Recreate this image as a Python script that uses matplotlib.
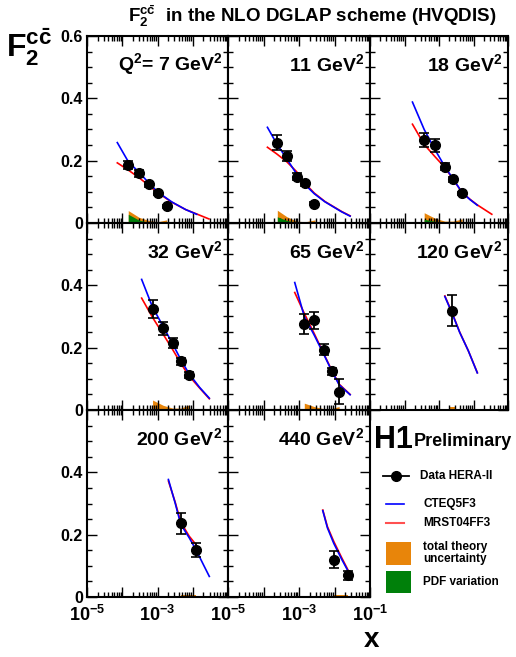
import numpy as np
import matplotlib
matplotlib.use("Agg")
import matplotlib.pyplot as plt
import matplotlib.ticker as mticker

plt.rcParams['font.family'] = ['Liberation Sans', 'DejaVu Sans']
plt.rcParams['font.weight'] = 'bold'
plt.rcParams['mathtext.fontset'] = 'custom'
plt.rcParams['mathtext.rm'] = 'Liberation Sans:bold'
plt.rcParams['mathtext.it'] = 'Liberation Sans:bold'
plt.rcParams['mathtext.bf'] = 'Liberation Sans:bold'

# ---- data ----
# Q2 = 7
q7_x = [1.48e-4, 3.02e-4, 5.75e-4, 1.0e-3, 1.82e-3]
q7_f2 = [0.186, 0.159, 0.124, 0.097, 0.053]
q7_err = [0.012, 0.010, 0.008, 0.007, 0.005]
q7_cteq_x = [7.24e-5, 1.48e-4, 3.02e-4, 5.75e-4, 1.0e-3, 2.51e-3, 6.31e-3, 1.29e-2]
q7_cteq = [0.258, 0.197, 0.162, 0.128, 0.100, 0.068, 0.043, 0.028]
q7_mrst_x = [7.24e-5, 1.48e-4, 3.02e-4, 5.75e-4, 1.0e-3, 2.51e-3, 6.31e-3, 1.29e-2, 2.88e-2]
q7_mrst = [0.193, 0.170, 0.145, 0.120, 0.098, 0.067, 0.043, 0.029, 0.013]
q7_band_x = [1.48e-4, 3.02e-4, 5.75e-4, 1.0e-3, 1.82e-3]
q7_total = [0.040, 0.018, 0.008, 0.004, 0.010]
q7_pdf = [0.028, 0.009, 0.002, 0.0, 0.0]

# Q2 = 11
q11_x = [2.34e-4, 4.57e-4, 8.51e-4, 1.51e-3, 2.69e-3]
q11_f2 = [0.258, 0.215, 0.149, 0.127, 0.062]
q11_err = [0.024, 0.016, 0.010, 0.008, 0.005]
q11_cteq_x = [1.29e-4, 2.34e-4, 4.57e-4, 8.51e-4, 1.51e-3, 2.69e-3, 5.37e-3, 1.58e-2, 2.75e-2]
q11_cteq = [0.307, 0.255, 0.205, 0.158, 0.122, 0.094, 0.068, 0.036, 0.022]
q11_mrst_x = [1.29e-4, 2.34e-4, 4.57e-4, 8.51e-4, 1.51e-3, 2.69e-3, 5.37e-3, 1.58e-2, 2.75e-2]
q11_mrst = [0.243, 0.222, 0.196, 0.165, 0.126, 0.096, 0.069, 0.037, 0.023]
q11_band_x = [2.45e-4, 4.57e-4, 8.51e-4, 1.51e-3, 2.82e-3]
q11_total = [0.041, 0.020, 0.006, 0.004, 0.010]
q11_pdf = [0.020, 0.008, 0.002, 0.0, 0.0]

# Q2 = 18
q18_x = [3.72e-4, 7.76e-4, 1.48e-3, 2.57e-3, 4.68e-3]
q18_f2 = [0.266, 0.249, 0.181, 0.141, 0.095]
q18_err = [0.023, 0.020, 0.010, 0.008, 0.006]
q18_cteq_x = [1.70e-4, 3.72e-4, 7.76e-4, 1.48e-3, 2.57e-3, 4.68e-3, 7.94e-3, 1.29e-2]
q18_cteq = [0.388, 0.300, 0.234, 0.181, 0.141, 0.098, 0.075, 0.057]
q18_mrst_x = [1.70e-4, 3.72e-4, 7.76e-4, 1.48e-3, 2.57e-3, 4.68e-3, 7.94e-3, 1.29e-2, 3.39e-2]
q18_mrst = [0.317, 0.252, 0.212, 0.178, 0.140, 0.098, 0.076, 0.058, 0.028]
q18_band_x = [3.72e-4, 7.76e-4, 1.48e-3, 2.57e-3, 4.68e-3]
q18_total = [0.033, 0.015, 0.006, 0.006, 0.013]
q18_pdf = [0.012, 0.005, 0.002, 0.0, 0.0]

# Q2 = 32
q32_x = [7.24e-4, 1.45e-3, 2.69e-3, 4.57e-3, 7.76e-3]
q32_f2 = [0.324, 0.262, 0.216, 0.156, 0.113]
q32_err = [0.030, 0.020, 0.016, 0.012, 0.010]
q32_cteq_x = [3.55e-4, 7.24e-4, 1.45e-3, 2.69e-3, 4.57e-3, 7.76e-3, 1.58e-2, 2.95e-2]
q32_cteq = [0.419, 0.330, 0.268, 0.212, 0.162, 0.117, 0.072, 0.038]
q32_mrst_x = [3.55e-4, 7.24e-4, 1.45e-3, 2.69e-3, 4.57e-3, 7.76e-3, 1.58e-2, 2.95e-2]
q32_mrst = [0.359, 0.297, 0.243, 0.194, 0.150, 0.110, 0.070, 0.036]
q32_band_x = [7.24e-4, 1.45e-3, 2.69e-3, 4.57e-3, 7.76e-3]
q32_total = [0.032, 0.015, 0.006, 0.006, 0.016]
q32_pdf = [0.004, 0.001, 0.0, 0.0, 0.0]

# Q2 = 65
q65_x = [1.41e-3, 2.69e-3, 5.01e-3, 8.32e-3, 1.35e-2]
q65_f2 = [0.275, 0.288, 0.194, 0.124, 0.059]
q65_err = [0.032, 0.028, 0.018, 0.012, 0.040]
q65_cteq_x = [7.59e-4, 1.41e-3, 2.69e-3, 5.01e-3, 8.32e-3, 1.35e-2, 2.75e-2]
q65_cteq = [0.409, 0.300, 0.240, 0.178, 0.126, 0.081, 0.049]
q65_mrst_x = [7.59e-4, 1.41e-3, 2.69e-3, 5.01e-3, 8.32e-3, 1.35e-2, 2.75e-2]
q65_mrst = [0.377, 0.310, 0.245, 0.180, 0.128, 0.083, 0.050]
q65_band_x = [1.41e-3, 2.69e-3, 5.01e-3, 8.32e-3, 1.35e-2]
q65_total = [0.022, 0.011, 0.004, 0.005, 0.011]
q65_pdf = [0.003, 0.001, 0.0, 0.0, 0.0]

# Q2 = 120
q120_x = [2.40e-3]
q120_f2 = [0.318]
q120_err = [0.050]
q120_cteq_x = [1.48e-3, 2.40e-3, 3.98e-3, 7.08e-3, 1.29e-2]
q120_cteq = [0.364, 0.310, 0.249, 0.190, 0.119]
q120_mrst_x = [1.48e-3, 2.40e-3, 3.98e-3, 7.08e-3, 1.29e-2]
q120_mrst = [0.366, 0.312, 0.250, 0.190, 0.120]
q120_band_x = [2.0e-3, 3.02e-3]
q120_total = [0.009, 0.009]
q120_pdf = [0.003, 0.003]

# Q2 = 200
q200_x = [4.57e-3, 1.23e-2]
q200_f2 = [0.236, 0.150]
q200_err = [0.035, 0.022]
q200_cteq_x = [2.04e-3, 3.16e-3, 4.57e-3, 7.94e-3, 1.23e-2, 2.0e-2, 2.95e-2]
q200_cteq = [0.377, 0.302, 0.233, 0.190, 0.152, 0.104, 0.066]
q200_mrst_x = [2.04e-3, 3.16e-3, 4.57e-3, 7.94e-3, 1.20e-2]
q200_mrst = [0.372, 0.305, 0.240, 0.195, 0.170]
q200_band_x = [4.57e-3, 1.23e-2]
q200_total = [0.005, 0.005]
q200_pdf = [0.0, 0.0]

# Q2 = 440
q440_x = [9.55e-3, 2.45e-2]
q440_f2 = [0.120, 0.069]
q440_err = [0.028, 0.015]
q440_cteq_x = [4.68e-3, 6.31e-3, 9.55e-3, 1.58e-2, 2.57e-2]
q440_cteq = [0.277, 0.222, 0.172, 0.122, 0.077]
q440_mrst_x = [4.68e-3, 6.31e-3, 9.55e-3, 1.58e-2, 2.57e-2]
q440_mrst = [0.279, 0.226, 0.178, 0.127, 0.080]
q440_band_x = [9.55e-3, 2.45e-2]
q440_total = [0.005, 0.005]
q440_pdf = [0.0, 0.0]

panel_labels = ["Q$^2$= 7 GeV$^2$", "11 GeV$^2$", "18 GeV$^2$", "32 GeV$^2$",
                "65 GeV$^2$", "120 GeV$^2$", "200 GeV$^2$", "440 GeV$^2$"]

panels = [
    (q7_x, q7_f2, q7_err, q7_cteq_x, q7_cteq, q7_mrst_x, q7_mrst, q7_band_x, q7_total, q7_pdf),
    (q11_x, q11_f2, q11_err, q11_cteq_x, q11_cteq, q11_mrst_x, q11_mrst, q11_band_x, q11_total, q11_pdf),
    (q18_x, q18_f2, q18_err, q18_cteq_x, q18_cteq, q18_mrst_x, q18_mrst, q18_band_x, q18_total, q18_pdf),
    (q32_x, q32_f2, q32_err, q32_cteq_x, q32_cteq, q32_mrst_x, q32_mrst, q32_band_x, q32_total, q32_pdf),
    (q65_x, q65_f2, q65_err, q65_cteq_x, q65_cteq, q65_mrst_x, q65_mrst, q65_band_x, q65_total, q65_pdf),
    (q120_x, q120_f2, q120_err, q120_cteq_x, q120_cteq, q120_mrst_x, q120_mrst, q120_band_x, q120_total, q120_pdf),
    (q200_x, q200_f2, q200_err, q200_cteq_x, q200_cteq, q200_mrst_x, q200_mrst, q200_band_x, q200_total, q200_pdf),
    (q440_x, q440_f2, q440_err, q440_cteq_x, q440_cteq, q440_mrst_x, q440_mrst, q440_band_x, q440_total, q440_pdf),
]

ORANGE = '#e8850a'
GREEN = '#00800a'
W, H = 516, 657

fig = plt.figure(figsize=(W / 100, H / 100), dpi=100)

col_edges = [87, 228, 370, 508]
row_edges = [36, 223, 410, 597]

for i, p in enumerate(panels):
    xs, f2, err, cx, cy, mx, my, bx, btot, bpdf = p
    row, col = divmod(i, 3)
    l, r = col_edges[col], col_edges[col + 1]
    t, b = row_edges[row], row_edges[row + 1]
    ax = fig.add_axes([l / W, 1 - b / H, (r - l) / W, (b - t) / H])
    ax.set_xscale('log')
    ax.set_xlim(1e-5, 1e-1)
    ax.set_ylim(0, 0.6)

    ax.fill_between(bx, 0, btot, color=ORANGE, lw=0, zorder=1)
    ax.fill_between(bx, 0, bpdf, color=GREEN, lw=0, zorder=2)
    ax.plot(mx, my, color='red', lw=1.2, zorder=3)
    ax.plot(cx, cy, color='blue', lw=1.2, zorder=4)
    ax.errorbar(xs, f2, yerr=err, fmt='o', color='k', ms=7, elinewidth=1.3,
                capsize=3.5, capthick=1.2, zorder=5)

    ax.text(0.96, 0.85, panel_labels[i], transform=ax.transAxes, ha='right',
            va='center', fontsize=14, fontweight='bold')

    # ticks
    ax.xaxis.set_major_locator(mticker.LogLocator(base=10, numticks=10))
    ax.xaxis.set_minor_locator(mticker.LogLocator(base=10, subs=np.arange(2, 10), numticks=20))
    ax.xaxis.set_minor_formatter(mticker.NullFormatter())
    ax.yaxis.set_major_locator(mticker.MultipleLocator(0.2))
    ax.yaxis.set_minor_locator(mticker.MultipleLocator(0.05))
    ax.tick_params(which='both', direction='in', top=True, right=True, width=1)
    ax.tick_params(which='major', length=7, labelsize=11.5, pad=3)
    ax.tick_params(which='minor', length=3.5)

    if col == 0:
        labs = ['0', '0.2', '0.4', '0.6'] if row == 0 else ['0', '0.2', '0.4', '']
        ax.set_yticks([0, 0.2, 0.4, 0.6])
        ax.set_yticklabels(labs, fontweight='bold')
    else:
        ax.set_yticklabels([])

    if row == 2:
        ax.set_xticks([1e-5, 1e-4, 1e-3, 1e-2, 1e-1])
        if col == 0:
            xl = ['$10^{-5}$', '', '$10^{-3}$', '', '']
        else:
            xl = ['$10^{-5}$', '', '$10^{-3}$', '', '$10^{-1}$']
        ax.set_xticklabels(xl, fontsize=13)
        ax.tick_params(axis='x', which='major', pad=6)
    else:
        ax.set_xticklabels([])
    for s in ax.spines.values():
        s.set_linewidth(1.5)

# overlay for titles and the legend box, pixel coordinates
ov = fig.add_axes([0, 0, 1, 1], zorder=10)
ov.set_xlim(0, W)
ov.set_ylim(H, 0)
ov.axis('off')
ov.patch.set_alpha(0)

ov.text(312, 16, r"F$_2^{c\bar{c}}$  in the NLO DGLAP scheme (HVQDIS)",
        ha='center', va='center', fontsize=13.5, fontweight='bold')
ov.text(6, 47, r"F$_2^{c\bar{c}}$", ha='left', va='center', fontsize=23,
        fontweight='bold')
ov.text(372, 640, "x", ha='center', va='center', fontsize=20, fontweight='bold')

ov.text(374, 440, "H1", ha='left', va='center', fontsize=22, fontweight='bold')
ov.text(414, 442, "Preliminary", ha='left', va='center', fontsize=13, fontweight='bold')

ov.plot([383, 409], [476, 476], color='k', lw=1.3)
ov.plot([396], [476], 'o', color='k', ms=7)
ov.text(420, 476, "Data HERA-II", ha='left', va='center', fontsize=8.5, fontweight='bold')
ov.plot([386, 404], [504, 504], color='blue', lw=1.2)
ov.text(423, 504, "CTEQ5F3", ha='left', va='center', fontsize=8.5, fontweight='bold')
ov.plot([386, 404], [523, 523], color='#ff5050', lw=1.5)
ov.text(423, 523, "MRST04FF3", ha='left', va='center', fontsize=8.5, fontweight='bold')
ov.fill_between([386, 411], 542, 565, color=ORANGE, lw=0)
ov.text(423, 553, "total theory\nuncertainty", ha='left', va='center', fontsize=8.5,
        fontweight='bold', linespacing=0.95)
ov.fill_between([386, 411], 571, 593, color=GREEN, lw=0)
ov.text(423, 582, "PDF variation", ha='left', va='center', fontsize=8.5, fontweight='bold')

fig.savefig("out.png", dpi=100)
